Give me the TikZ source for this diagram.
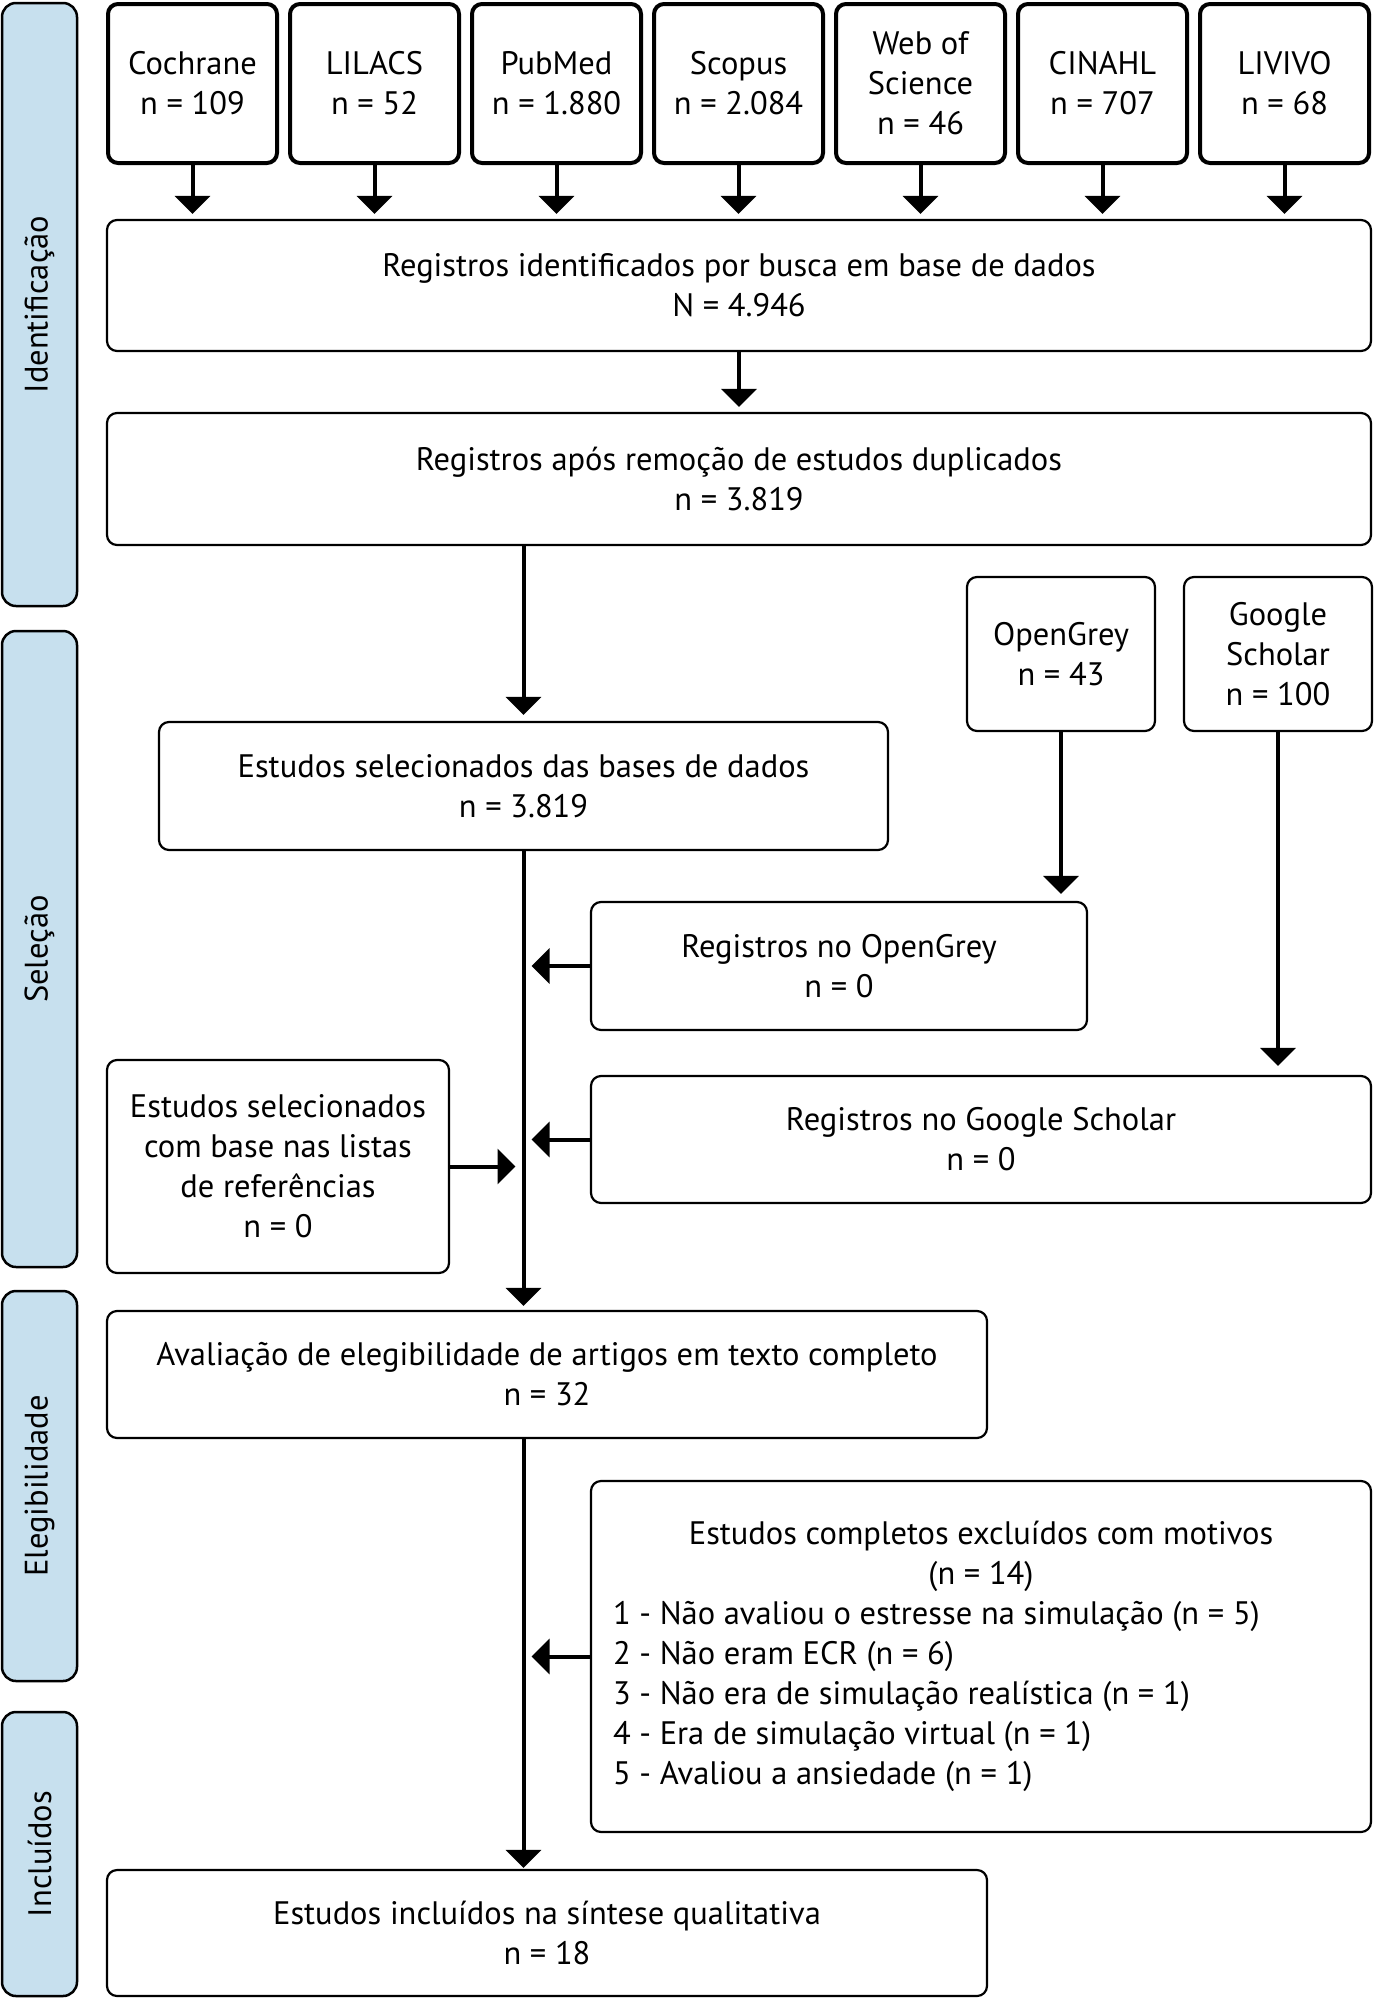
\documentclass[tikz,border=0pt]{standalone}
\usepackage{fontspec}
\setmainfont{PT Sans}
\usetikzlibrary{arrows.meta}
\definecolor{sidebar}{RGB}{199,224,238}
\newcommand\fs{\fontsize{32.5}{40}\selectfont}
\tikzset{
 src/.style={draw, line width=4pt, rounded corners=10pt, align=center, inner sep=0pt, minimum width=169pt, minimum height=159pt, font=\fs},
 box/.style={draw, line width=2.2pt, rounded corners=10pt, align=center, inner sep=0pt, font=\fs},
 bar/.style={draw, fill=sidebar, line width=2.5pt, rounded corners=14pt, minimum width=75pt, inner sep=0pt},
 barlabel/.style={rotate=90, font=\fs, inner sep=0pt},
 arr/.style={line width=4pt, -{Triangle[width=35pt,length=18pt]}},
}
\begin{document}
\begin{tikzpicture}[x=1pt,y=1pt]
\useasboundingbox[fill=white] (0,0) rectangle (1374,-2000);
% side bars
\node[bar, minimum height=603pt] (bid) at (39.5,-304.5) {};
\node[bar, minimum height=636pt] (bsel) at (39.5,-949) {};
\node[bar, minimum height=390pt] (beli) at (39.5,-1486) {};
\node[bar, minimum height=284pt] (binc) at (39.5,-1854) {};
\node[barlabel] (lid) at (bid) {Identificação};
\node[barlabel] (lsel) at (bsel) {Seleção};
\node[barlabel] (leli) at (beli) {Elegibilidade};
\node[barlabel] (linc) at (binc) {Incluídos};
% sources
\node[src] (s1) at (192.5,-83.5) {Cochrane\\n = 109};
\node[src] (s2) at (374.5,-83.5) {LILACS\\n = 52};
\node[src] (s3) at (556.5,-83.5) {PubMed\\n = 1.880};
\node[src] (s4) at (738.5,-83.5) {Scopus\\n = 2.084};
\node[src] (s5) at (920.5,-83.5) {Web of\\Science\\n = 46};
\node[src] (s6) at (1102.5,-83.5) {CINAHL\\n = 707};
\node[src] (s7) at (1284.5,-83.5) {LIVIVO\\n = 68};
% main boxes
\node[box, minimum width=1264pt, minimum height=131pt] (reg1) at (739,-285.5) {Registros identificados por busca em base de dados\\N = 4.946};
\node[box, minimum width=1264pt, minimum height=132pt] (reg2) at (739,-479) {Registros após remoção de estudos duplicados\\n = 3.819};
\node[box, minimum width=729pt, minimum height=128pt] (sel) at (523.5,-786) {Estudos selecionados das bases de dados\\n = 3.819};
\node[box, minimum width=188pt, minimum height=154pt] (og) at (1061,-654) {OpenGrey\\n = 43};
\node[box, minimum width=188pt, minimum height=154pt] (gs) at (1278,-654) {Google\\Scholar\\n = 100};
\node[box, minimum width=496pt, minimum height=128pt] (rog) at (839,-966) {Registros no OpenGrey\\n = 0};
\node[box, minimum width=780pt, minimum height=127pt] (rgs) at (981,-1139.5) {Registros no Google Scholar\\n = 0};
\node[box, minimum width=342pt, minimum height=213pt] (ref) at (278,-1166.5) {Estudos selecionados\\com base nas listas\\de referências\\n = 0};
\node[box, minimum width=880pt, minimum height=127pt] (elig) at (547,-1374.5) {Avaliação de elegibilidade de artigos em texto completo\\n = 32};
\node[box, minimum width=780pt, minimum height=351pt] (excl) at (981,-1656.5) {\begin{minipage}{736pt}\fs\centering Estudos completos excluídos com motivos\\(n = 14)\par\raggedright 1 - Não avaliou o estresse na simulação (n = 5)\\2 - Não eram ECR (n = 6)\\3 - Não era de simulação realística (n = 1)\\4 - Era de simulação virtual (n = 1)\\5 - Avaliou a ansiedade (n = 1)\par\end{minipage}};
\node[box, minimum width=880pt, minimum height=126pt] (final) at (547,-1933) {Estudos incluídos na síntese qualitativa\\n = 18};
% arrows
\foreach \s in {s1,s2,s3,s4,s5,s6,s7}{
  \draw[arr, shorten >=5pt] (\s.south) -- (\s.south |- reg1.north);
}
\draw[arr, shorten >=5pt] (reg1.south) -- (reg2.north);
\draw[arr, shorten >=6pt] (sel.north |- reg2.south) -- (sel.north);
\draw[arr, shorten >=4pt] (sel.south) -- (elig.north -| sel.south);
\draw[arr, shorten >=1pt] (elig.south -| sel.south) -- (final.north -| sel.south);
\draw[arr, shorten >=7pt] (og.south) -- (og.south |- rog.north);
\draw[arr, shorten >=9pt] (gs.south) -- (gs.south |- rgs.north);
\draw[arr, shorten >=8pt] (rog.west) -- (rog.west -| sel.south);
\draw[arr, shorten >=8pt] (rgs.west) -- (rgs.west -| sel.south);
\draw[arr, shorten >=8pt] (ref.east) -- (ref.east -| sel.south);
\draw[arr, shorten >=8pt] (excl.west) -- (excl.west -| sel.south);
\end{tikzpicture}
\end{document}
